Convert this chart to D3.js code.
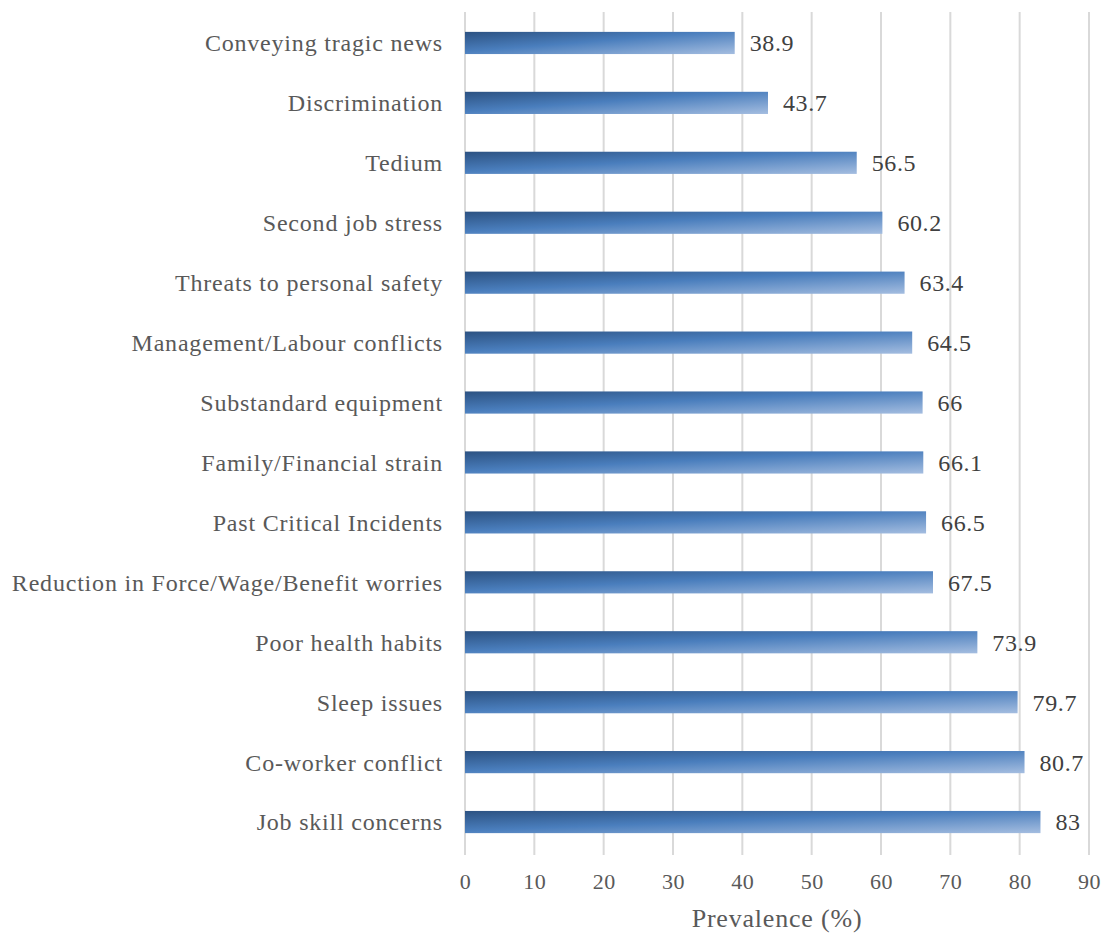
<!DOCTYPE html>
<html>
<head>
<meta charset="UTF-8"/>
<script src="https://d3js.org/d3.v7.min.js"></script>
<style>
    body { margin: 0; background: #fff; }
    text { font-family: "Liberation Serif", "DejaVu Serif", serif; }
</style>
</head>
<body>
<div id="chart"></div>
<script>
    // categories, top to bottom
    var categories = ["Conveying tragic news", "Discrimination", "Tedium", "Second job stress",
        "Threats to personal safety", "Management/Labour conflicts", "Substandard equipment",
        "Family/Financial strain", "Past Critical Incidents", "Reduction in Force/Wage/Benefit worries",
        "Poor health habits", "Sleep issues", "Co-worker conflict", "Job skill concerns"];
    var values = [38.9, 43.7, 56.5, 60.2, 63.4, 64.5, 66, 66.1, 66.5, 67.5, 73.9, 79.7, 80.7, 83];
    var ticks = [0, 10, 20, 30, 40, 50, 60, 70, 80, 90];
    var axisTitle = "Prevalence (%)";

    var width = 1108, height = 934;
    var margin = {top: 13, right: 19, bottom: 82, left: 465};

    var svg = d3.select("#chart").append("svg")
        .attr("width", width)
        .attr("height", height);

    // bar gradient, dark top-left to light bottom-right
    var grad = svg.append("defs").append("linearGradient")
        .attr("id", "barGrad")
        .attr("x1", 0).attr("y1", 0).attr("x2", 1).attr("y2", 1);
    grad.append("stop").attr("offset", "0%").attr("stop-color", "#2c5282");
    grad.append("stop").attr("offset", "45%").attr("stop-color", "#4a7ebd");
    grad.append("stop").attr("offset", "100%").attr("stop-color", "#a4bde0");

    var x = d3.scaleLinear()
        .domain([0, 90])
        .range([margin.left, width - margin.right]);

    var y = d3.scaleBand()
        .domain(categories)
        .range([margin.top, height - margin.bottom])
        .paddingInner(0.63)
        .paddingOuter(0.315);

    // gridlines
    svg.selectAll(".grid")
        .data(ticks)
        .enter()
        .append("line")
        .attr("x1", function(d) { return x(d); })
        .attr("x2", function(d) { return x(d); })
        .attr("y1", margin.top - 1)
        .attr("y2", height - margin.bottom + 3)
        .attr("stroke", "#d9d9d9")
        .attr("stroke-width", 2);

    // bars
    svg.selectAll(".bar")
        .data(values)
        .enter()
        .append("rect")
        .attr("x", x(0))
        .attr("y", function(d, i) { return y(categories[i]); })
        .attr("width", function(d) { return x(d) - x(0); })
        .attr("height", y.bandwidth())
        .attr("fill", "url(#barGrad)");

    // value labels
    svg.selectAll(".val")
        .data(values)
        .enter()
        .append("text")
        .attr("x", function(d) { return x(d) + 15; })
        .attr("y", function(d, i) { return y(categories[i]) + y.bandwidth() / 2; })
        .attr("dy", "0.35em")
        .attr("font-size", "24px")
        .attr("letter-spacing", "0.6px")
        .attr("fill", "#404040")
        .text(function(d) { return d; });

    // category labels
    svg.selectAll(".cat")
        .data(categories)
        .enter()
        .append("text")
        .attr("x", x(0) - 22)
        .attr("y", function(d) { return y(d) + y.bandwidth() / 2; })
        .attr("dy", "0.35em")
        .attr("text-anchor", "end")
        .attr("font-size", "24px")
        .attr("letter-spacing", "0.8px")
        .attr("fill", "#595959")
        .text(function(d) { return d; });

    // x axis tick labels
    var xAxis = svg.append("g")
        .attr("transform", "translate(0," + (height - margin.bottom + 3) + ")")
        .call(d3.axisBottom(x).tickValues(ticks).tickSize(0).tickPadding(18));
    xAxis.select(".domain").remove();
    xAxis.selectAll("text")
        .attr("font-size", "22px")
        .attr("letter-spacing", "0.5px")
        .attr("fill", "#595959")
        .style("font-family", "'Liberation Serif', 'DejaVu Serif', serif");

    // axis title
    svg.append("text")
        .attr("x", (x(0) + x(90)) / 2)
        .attr("y", 927)
        .attr("text-anchor", "middle")
        .attr("font-size", "26px")
        .attr("letter-spacing", "0.8px")
        .attr("fill", "#595959")
        .text(axisTitle);
</script>
</body>
</html>
